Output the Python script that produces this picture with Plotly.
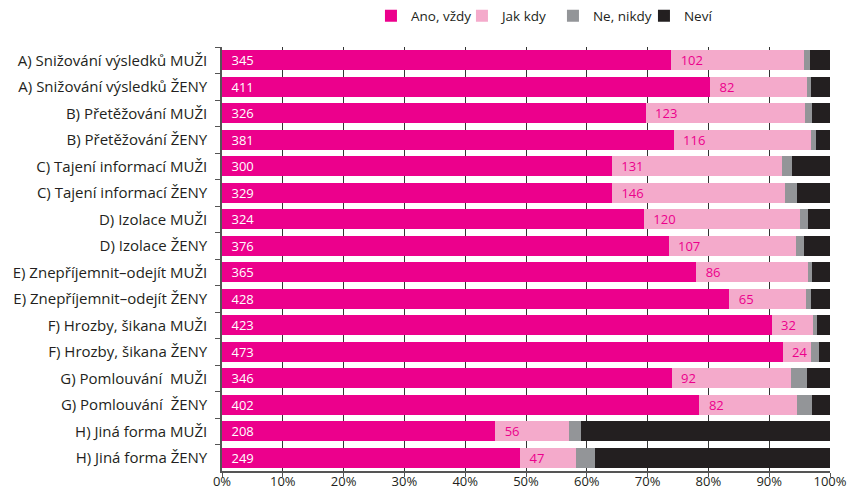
import plotly.graph_objects as go

# Kategorie (shora dolů) a počty odpovědí
categories = [
    "A) Snižování výsledků MUŽI", "A) Snižování výsledků ŽENY",
    "B) Přetěžování MUŽI", "B) Přetěžování ŽENY",
    "C) Tajení informací MUŽI", "C) Tajení informací ŽENY",
    "D) Izolace MUŽI", "D) Izolace ŽENY",
    "E) Znepříjemnit–odejít MUŽI", "E) Znepříjemnit–odejít ŽENY",
    "F) Hrozby, šikana MUŽI", "F) Hrozby, šikana ŽENY",
    "G) Pomlouvání  MUŽI", "G) Pomlouvání  ŽENY",
    "H) Jiná forma MUŽI", "H) Jiná forma ŽENY",
]
ano_vzdy = [345, 411, 326, 381, 300, 329, 324, 376, 365, 428, 423, 473, 346, 402, 208, 249]
jak_kdy = [102, 82, 123, 116, 131, 146, 120, 107, 86, 65, 32, 24, 92, 82, 56, 47]
ne_nikdy = [5, 3, 5, 4, 8, 10, 6, 7, 3, 4, 3, 7, 12, 13, 9, 16]
nevi = [15, 16, 14, 12, 29, 28, 17, 22, 14, 16, 10, 9, 18, 15, 190, 196]

x_ticks = [0, 10, 20, 30, 40, 50, 60, 70, 80, 90, 100]
x_tick_labels = [f"{t}%" for t in x_ticks]

FONT = "Open Sans"
DARK = "#231f20"

fig = go.Figure()

# Ano, vždy - počty bíle uvnitř
fig.add_trace(go.Bar(
    y=categories, x=ano_vzdy, name="Ano, vždy", orientation="h",
    marker=dict(color="#ec008c", line=dict(width=0)),
    text=ano_vzdy, texttemplate="\u2002%{text}",
    textposition="inside", insidetextanchor="start", textangle=0,
    textfont=dict(color="white", size=13, family=FONT), constraintext="none",
))
# Jak kdy - počty purpurově
fig.add_trace(go.Bar(
    y=categories, x=jak_kdy, name="Jak kdy", orientation="h",
    marker=dict(color="#f4aacb", line=dict(width=0)),
    text=jak_kdy, texttemplate="\u2002%{text}",
    textposition="inside", insidetextanchor="start", textangle=0,
    textfont=dict(color="#ec008c", size=13, family=FONT), constraintext="none",
))
fig.add_trace(go.Bar(
    y=categories, x=ne_nikdy, name="Ne, nikdy", orientation="h",
    marker=dict(color="#939598", line=dict(width=0)),
))
fig.add_trace(go.Bar(
    y=categories, x=nevi, name="Neví", orientation="h",
    marker=dict(color=DARK, line=dict(width=0)),
))

fig.update_layout(
    width=848, height=490,
    barmode="stack", barnorm="percent", bargap=0.24,
    plot_bgcolor="white", paper_bgcolor="white",
    margin=dict(l=222, r=18, t=47, b=19, autoexpand=False),
    font=dict(family=FONT, size=13, color=DARK),
    legend=dict(
        orientation="h", x=0.245, y=1.073, xanchor="left", yanchor="middle",
        font=dict(size=13.5, color=DARK), traceorder="normal",
        entrywidth=46, entrywidthmode="pixels", bgcolor="rgba(0,0,0,0)",
    ),
    xaxis=dict(
        range=[0, 100], tickvals=x_ticks, ticktext=x_tick_labels,
        showgrid=True, gridcolor="#333333", gridwidth=1,
        showline=True, linecolor="#555555", linewidth=1.5,
        ticks="outside", ticklen=4, tickcolor="#555555",
        ticklabelstandoff=-6,
        tickfont=dict(size=13), zeroline=False, automargin=False,
    ),
    yaxis=dict(
        autorange="reversed", type="category",
        showline=True, linecolor="#555555", linewidth=1.5,
        ticks="outside", ticklen=5, tickcolor="#555555", tickson="boundaries",
        ticklabelstandoff=10,
        tickfont=dict(size=15), automargin=False, showgrid=False,
    ),
)

# bez výchozího okraje stránky, aby figura seděla přesně do okna
fig.write_html(
    "out.html",
    config={"displayModeBar": False},
    post_script="document.body.style.margin = '0';",
)
